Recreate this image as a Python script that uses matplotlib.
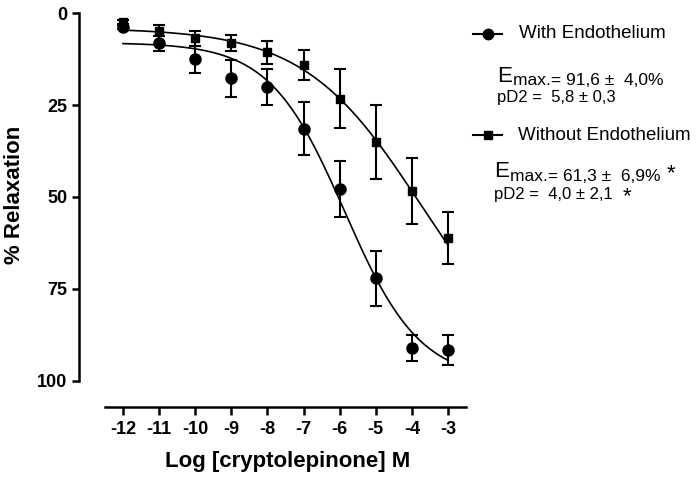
import numpy as np
import matplotlib
matplotlib.use("Agg")
import matplotlib.pyplot as plt
from matplotlib.lines import Line2D

plt.rcParams['font.family'] = ['Liberation Sans', 'DejaVu Sans']

# log concentrations
log_conc = [-12, -11, -10, -9, -8, -7, -6, -5, -4, -3]

# with endothelium (circles)
with_endo = [3.7, 8.2, 12.5, 17.7, 20.1, 31.4, 47.9, 72.1, 91.1, 91.7]
with_err = [0.5, 2.0, 3.7, 5.1, 5.0, 7.3, 7.7, 7.5, 3.6, 4.2]

# without endothelium (squares)
without_endo = [2.3, 4.7, 6.8, 8.2, 10.6, 14.1, 23.2, 35.1, 48.4, 61.2]
without_err = [0.5, 1.5, 2.0, 2.2, 3.1, 4.1, 8.0, 10.0, 8.9, 7.0]

# 4-parameter logistic fit: bottom, top, logEC50, hill slope
with_fit = [8.0, 100.0, -5.86, 0.418]
without_fit = [4.0, 100.0, -3.76, 0.2685]

tick_vals = [0, 25, 50, 75, 100]

W, H = 700, 479


def fx(px):
    return px / W


def fy(py):
    return 1 - py / H


def logistic(x, p):
    bottom, top, ec50, hill = p
    return bottom + (top - bottom) / (1 + 10 ** ((ec50 - x) * hill))


fig = plt.figure(figsize=(7.0, 4.79), dpi=100)
ax = fig.add_axes([fx(79), fy(407), fx(466) - fx(79), fy(13.3) - fy(407)])

xs = np.linspace(-12, -3, 300)
ax.plot(xs, logistic(xs, without_fit), color='black', lw=1.2, zorder=2)
ax.plot(xs, logistic(xs, with_fit), color='black', lw=1.2, zorder=2)

ax.errorbar(log_conc, without_endo, yerr=without_err, fmt='s', color='black',
            markersize=6, capsize=4, elinewidth=1.5, capthick=1.5, zorder=3, clip_on=False)
ax.errorbar(log_conc, with_endo, yerr=with_err, fmt='o', color='black',
            markersize=8, capsize=4, elinewidth=1.5, capthick=1.5, zorder=4, clip_on=False)

ax.set_xlim(-13.22, -2.5)
ax.set_ylim(107.2, 0)
ax.spines['top'].set_visible(False)
ax.spines['right'].set_visible(False)
ax.spines['left'].set_bounds(0, 100)
ax.spines['bottom'].set_bounds(-12.5, -2.5)
for s in ['left', 'bottom']:
    ax.spines[s].set_linewidth(1.8)
ax.set_xticks(log_conc)
ax.set_xticklabels([str(v) for v in log_conc])
ax.set_yticks(tick_vals)
ax.set_yticklabels([str(v) for v in tick_vals])
ax.tick_params(axis='x', length=5.5, width=1.8, pad=4.5, labelsize=13)
ax.tick_params(axis='y', length=5, width=1.8, pad=3.5, labelsize=13)
for lab in ax.get_xticklabels() + ax.get_yticklabels():
    lab.set_fontweight('bold')

fig.text(fx(287.7), fy(467.3), 'Log [cryptolepinone] M', fontsize=16,
         fontweight='bold', ha='center', va='baseline')
fig.text(fx(15), fy(195), '% Relaxation', fontsize=16, fontweight='bold',
         rotation=90, ha='center', va='center')

# legend and statistics
fig.add_artist(Line2D([fx(472.7), fx(501.7)], [fy(34), fy(34)], color='black', lw=1.5))
fig.add_artist(Line2D([fx(488)], [fy(34)], marker='o', markersize=7.5, color='black'))
fig.text(fx(519), fy(34), 'With Endothelium', fontsize=13.5, va='center')
fig.text(fx(497), fy(81.7), 'E', fontsize=16, va='baseline')
fig.text(fx(513), fy(85), 'max.= 91,6 \u00b1  4,0%', fontsize=12.5, va='baseline')
fig.text(fx(497), fy(102.3), 'pD2 =  5,8 \u00b1 0,3', fontsize=12, va='baseline')

fig.add_artist(Line2D([fx(472.7), fx(501.7)], [fy(135), fy(135)], color='black', lw=1.5))
fig.add_artist(Line2D([fx(488)], [fy(135)], marker='s', markersize=5.5, color='black'))
fig.text(fx(518), fy(135), 'Without Endothelium', fontsize=13.5, va='center')
fig.text(fx(494), fy(176.7), 'E', fontsize=16, va='baseline')
fig.text(fx(510), fy(181), 'max.= 61,3 \u00b1  6,9%', fontsize=12.5, va='baseline')
fig.text(fx(667), fy(179), '*', fontsize=16, va='baseline')
fig.text(fx(494), fy(199.5), 'pD2 =  4,0 \u00b1 2,1', fontsize=12, va='baseline')
fig.text(fx(623), fy(202), '*', fontsize=16, va='baseline')

fig.savefig('out.png', dpi=100)
